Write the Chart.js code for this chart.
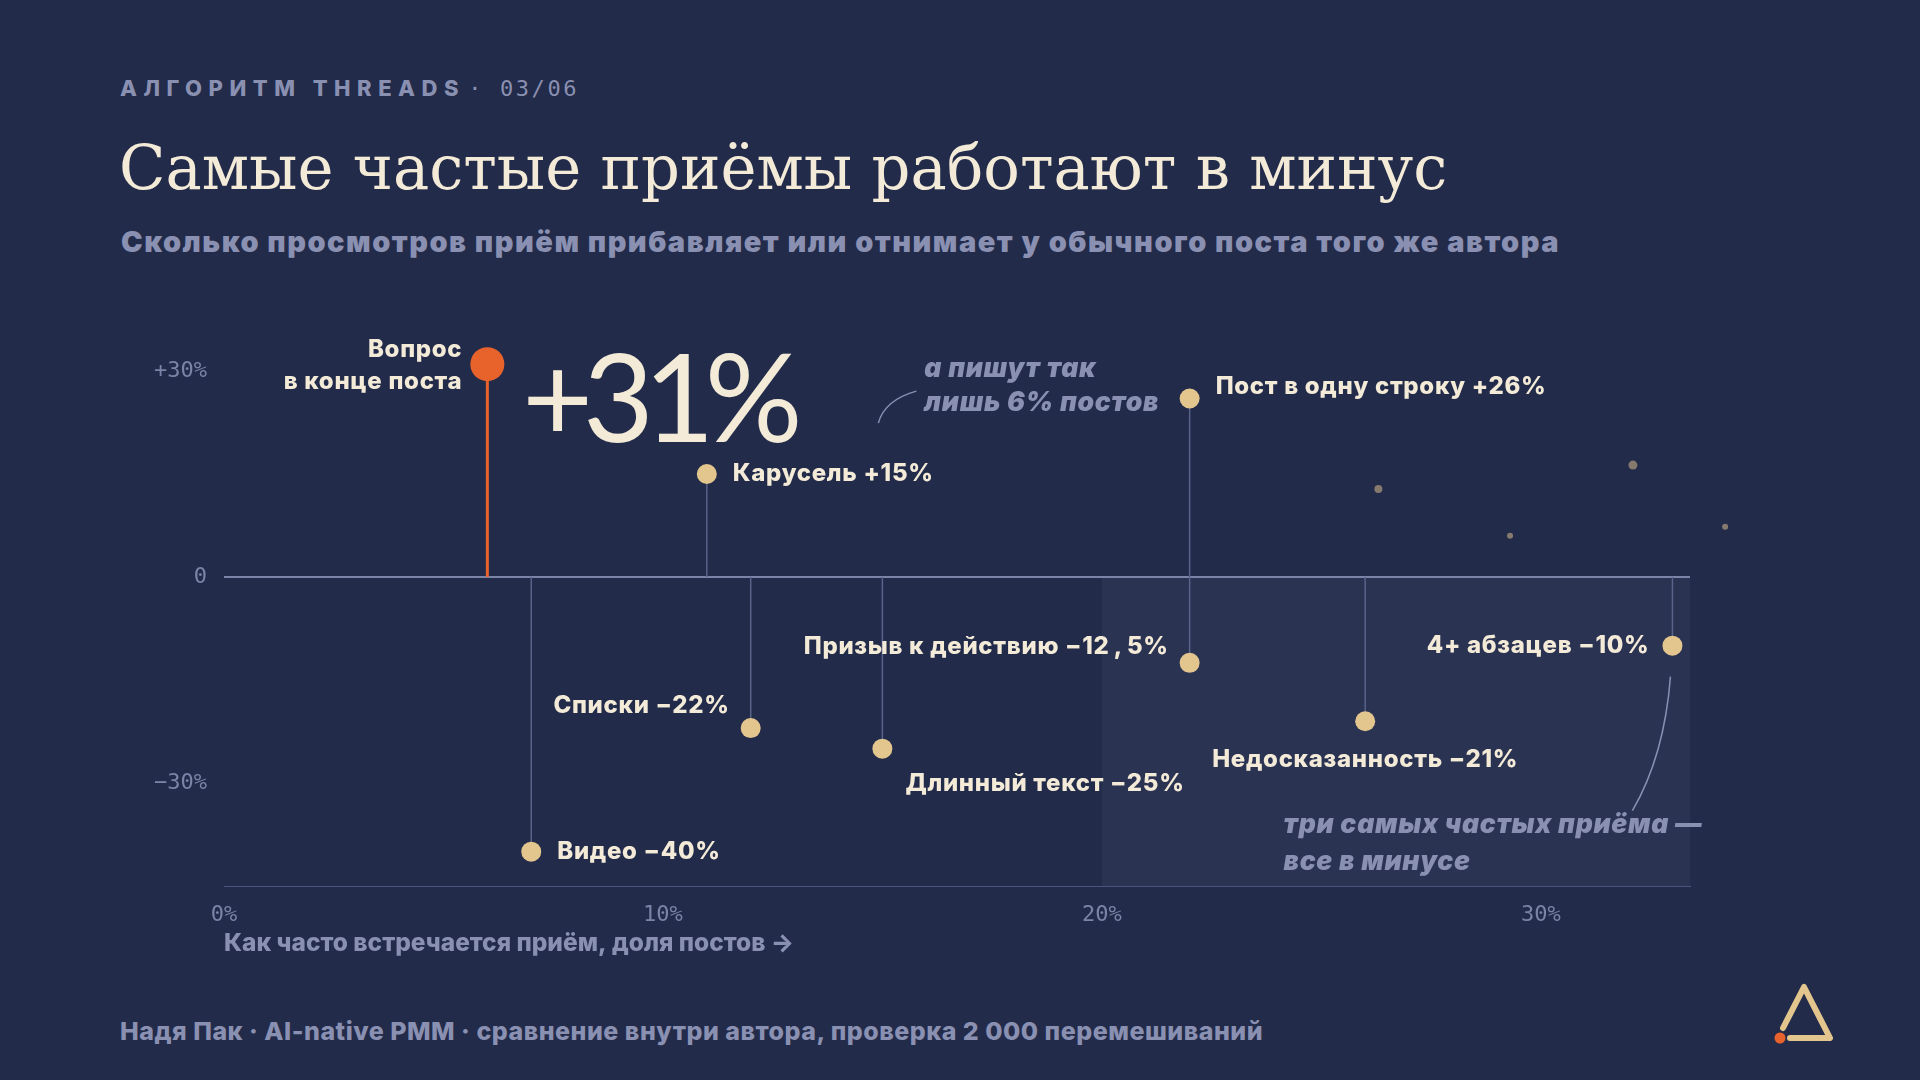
<!DOCTYPE html>
<html lang="ru">
<head>
<meta charset="utf-8">
<title>Алгоритм Threads 03/06</title>
<script src="https://cdn.jsdelivr.net/npm/chart.js@4.4.1/dist/chart.umd.min.js"></script>
<style>
  html, body { margin: 0; padding: 0; }
  body { width: 1920px; height: 1080px; background: #222b4a; position: relative; overflow: hidden; font-family: Inter, sans-serif; }
  #chart { position: absolute; left: 0; top: 0; }
  .kicker { position: absolute; left: 120px; top: 77px; font: 800 22px/1 Inter, sans-serif; color: #8a90b1; letter-spacing: 6.5px; white-space: nowrap; }
  .kicker .num { font: 400 22px/1 "DejaVu Sans Mono", monospace; letter-spacing: 2.6px; margin-left: -8px; }
  .title { position: absolute; left: 119px; top: 138px; font: 400 60.8px/1 "DejaVu Serif", serif; color: #f3ead8; white-space: nowrap; }
  .subtitle { position: absolute; left: 121px; top: 227px; font: 900 29px/1 Inter, sans-serif; color: #8a90b1; letter-spacing: 1.5px; white-space: nowrap; }
  .footer { position: absolute; left: 120px; top: 1019px; font: 800 25px/1 Inter, sans-serif; color: #8a90b1; letter-spacing: 0.5px; white-space: nowrap; }
  .logo { position: absolute; left: 0; top: 0; }
</style>
</head>
<body>
<div class="kicker">АЛГОРИТМ THREADS <span class="num">· 03/06</span></div>
<div class="title">Самые частые приёмы работают в минус</div>
<div class="subtitle">Сколько просмотров приём прибавляет или отнимает у обычного поста того же автора</div>
<div class="footer">Надя Пак · AI-native PMM · сравнение внутри автора, проверка 2 000 перемешиваний</div>
<canvas id="chart" width="1920" height="1080"></canvas>
<svg class="logo" width="1920" height="1080">
  <path d="M1783 1028 L1804 987 L1830 1038 L1790 1038" fill="none" stroke="#e3c58e" stroke-width="6" stroke-linecap="round" stroke-linejoin="round"/>
  <circle cx="1780" cy="1038" r="5.5" fill="#e8622c"/>
</svg>
<script>
// приёмы: доля постов с приёмом (%) и эффект на просмотры (%)
const techniques = ['Вопрос в конце поста', 'Карусель', 'Пост в одну строку', 'Видео', 'Списки',
  'Длинный текст', 'Призыв к действию', 'Недосказанность', '4+ абзацев'];
const shareOfPosts = [6, 11, 22, 7, 12, 15, 22, 26, 33];
const viewsEffect = [31, 15, 26, -40, -22, -25, -12.5, -21, -10];
const effectLabels = ['+31%', '+15%', '+26%', '−40%', '−22%', '−25%', '−12,5%', '−21%', '−10%'];

// прочие приёмы без подписи
const otherShare = [26.3, 32.1, 29.3, 34.2];
const otherEffect = [12.8, 16.3, 6.0, 7.3];

const xTicks = [0, 10, 20, 30];
const yTicks = [-30, 0, 30];

const CREAM = '#f3ead8';
const TAN = '#e3c58e';
const ORANGE = '#e8622c';
const MUTED = '#8a90b1';
const TICK = '#7c83a6';
const LABEL_FONT = '800 24px Inter';

// где ставить подпись относительно точки
const labelPlace = [
  null,
  { align: 'left', dx: 26, dy: 0 },
  { align: 'left', dx: 26, dy: -12 },
  { align: 'left', dx: 26, dy: 0 },
  { align: 'right', dx: -21, dy: -22 },
  { align: 'left', dx: 23, dy: 35 },
  { align: 'right', dx: -21, dy: -16 },
  { align: 'center', dx: 0, dy: 39 },
  { align: 'right', dx: -23, dy: 0 }
];
const otherRadius = [4, 4.5, 3, 3];

// подпись с "табличной" запятой: запятая занимает ширину цифры
function drawLabel(ctx, text, x, y, align) {
  const pieces = text.split(',');
  if (pieces.length === 1) {
    ctx.textAlign = align;
    ctx.fillText(text, x, y);
    return;
  }
  const digitW = ctx.measureText('0').width;
  const widths = pieces.map(p => ctx.measureText(p).width);
  const total = widths.reduce((a, b) => a + b, 0) + digitW * (pieces.length - 1);
  let cx = align === 'right' ? x - total : align === 'center' ? x - total / 2 : x;
  ctx.textAlign = 'left';
  pieces.forEach((p, k) => {
    ctx.fillText(p, cx, y);
    cx += widths[k];
    if (k < pieces.length - 1) {
      ctx.textAlign = 'center';
      ctx.fillText(',', cx + digitW / 2, y);
      ctx.textAlign = 'left';
      cx += digitW;
    }
  });
}

const shadePlugin = {
  id: 'shade',
  beforeDraw(chart) {
    const { ctx, chartArea, scales } = chart;
    const x0 = scales.x.getPixelForValue(20);
    const y0 = scales.y.getPixelForValue(0);
    ctx.save();
    ctx.fillStyle = '#2b3352';
    ctx.fillRect(x0, y0, chartArea.right - x0, chartArea.bottom - y0);
    ctx.restore();
  }
};

const stemPlugin = {
  id: 'stems',
  beforeDatasetsDraw(chart) {
    const { ctx, scales } = chart;
    const y0 = scales.y.getPixelForValue(0);
    ctx.save();
    // прочие приёмы — мелкие точки (одна выходит за край оси)
    ctx.fillStyle = '#857a6d';
    otherShare.forEach((s, i) => {
      ctx.beginPath();
      ctx.arc(scales.x.getPixelForValue(s), scales.y.getPixelForValue(otherEffect[i]), otherRadius[i], 0, Math.PI * 2);
      ctx.fill();
    });
    shareOfPosts.forEach((s, i) => {
      const x = scales.x.getPixelForValue(s);
      const y = scales.y.getPixelForValue(viewsEffect[i]);
      ctx.beginPath();
      ctx.strokeStyle = i === 0 ? ORANGE : '#5a638b';
      ctx.lineWidth = i === 0 ? 3 : 1.5;
      ctx.moveTo(x, y0);
      ctx.lineTo(x, y);
      ctx.stroke();
    });
    ctx.restore();
  }
};

const labelPlugin = {
  id: 'labels',
  afterDatasetsDraw(chart) {
    const { ctx, scales } = chart;
    const px = i => scales.x.getPixelForValue(shareOfPosts[i]);
    const py = i => scales.y.getPixelForValue(viewsEffect[i]);
    ctx.save();
    ctx.textBaseline = 'middle';
    ctx.font = LABEL_FONT;
    ctx.letterSpacing = '0.7px';
    ctx.fillStyle = CREAM;

    // главный приём
    ctx.textAlign = 'right';
    const parts = techniques[0].split(' в ');
    ctx.fillText(parts[0], px(0) - 25, py(0) - 14);
    ctx.fillText('в ' + parts[1], px(0) - 25, py(0) + 18);
    ctx.textAlign = 'left';
    ctx.textBaseline = 'alphabetic';
    ctx.font = '400 122px Lato';
    ctx.letterSpacing = '-10px';
    ctx.fillText(effectLabels[0], px(0) + 35, py(0) + 78);

    ctx.textBaseline = 'middle';
    ctx.font = LABEL_FONT;
    ctx.letterSpacing = '0.7px';
    for (let i = 1; i < techniques.length; i++) {
      const p = labelPlace[i];
      drawLabel(ctx, techniques[i] + ' ' + effectLabels[i], px(i) + p.dx, py(i) + p.dy, p.align);
    }

    // пояснения
    ctx.font = 'italic 900 26.5px Inter';
    ctx.letterSpacing = '0.7px';
    ctx.fillStyle = MUTED;
    ctx.textAlign = 'left';
    ctx.fillText('а пишут так', px(0) + 437, py(0) + 5);
    ctx.fillText('лишь 6% постов', px(0) + 437, py(0) + 39);
    ctx.fillText('три самых частых приёма —', px(8) - 389, py(8) + 179);
    ctx.fillText('все в минусе', px(8) - 389, py(8) + 216);

    ctx.strokeStyle = MUTED;
    ctx.lineWidth = 1.5;
    ctx.beginPath();
    ctx.moveTo(px(0) + 391, py(0) + 59);
    ctx.quadraticCurveTo(px(0) + 397, py(0) + 36, px(0) + 429, py(0) + 27);
    ctx.stroke();
    ctx.beginPath();
    ctx.moveTo(px(8) - 2, py(8) + 31);
    ctx.quadraticCurveTo(px(8) - 8, py(8) + 110, px(8) - 40, py(8) + 165);
    ctx.stroke();
    ctx.restore();
  }
};

const tickFont = { family: 'DejaVu Sans Mono', size: 22 };

new Chart(document.getElementById('chart'), {
  type: 'scatter',
  data: {
    datasets: [
      {
        label: 'приёмы',
        data: shareOfPosts.map((x, i) => ({ x, y: viewsEffect[i] })),
        backgroundColor: shareOfPosts.map((_, i) => i === 0 ? ORANGE : TAN),
        borderWidth: 0,
        pointRadius: shareOfPosts.map((_, i) => i === 0 ? 17 : 10),
        clip: false
      }
    ]
  },
  options: {
    responsive: false,
    animation: false,
    devicePixelRatio: 1,
    layout: { padding: { left: 0, right: 230, top: 268, bottom: 118 } },
    plugins: { legend: { display: false }, tooltip: { enabled: false } },
    scales: {
      x: {
        type: 'linear', min: 0, max: 33.4,
        afterBuildTicks: s => { s.ticks = xTicks.map(v => ({ value: v })); },
        afterFit: s => { s.height = 76; },
        ticks: { color: TICK, font: tickFont, padding: 8, maxRotation: 0, callback: v => v + '%' },
        grid: { display: false },
        border: { display: true, color: '#4b5480', width: 1 },
        title: {
          display: true, text: 'Как часто встречается приём, доля постов →',
          align: 'start', color: MUTED, font: { family: 'Inter', size: 24.5, weight: '800' }, padding: { top: 4 }
        }
      },
      y: {
        type: 'linear', min: -45, max: 45,
        afterBuildTicks: s => { s.ticks = yTicks.map(v => ({ value: v })); },
        afterFit: s => { s.width = 224; },
        ticks: {
          color: TICK, font: tickFont, padding: 17,
          callback: v => v > 0 ? '+' + v + '%' : v < 0 ? '−' + Math.abs(v) + '%' : '0'
        },
        grid: {
          drawTicks: false,
          color: c => c.tick && c.tick.value === 0 ? '#7c84a8' : 'transparent',
          lineWidth: c => c.tick && c.tick.value === 0 ? 2 : 0
        },
        border: { display: false }
      }
    }
  },
  plugins: [shadePlugin, stemPlugin, labelPlugin]
});
</script>
</body>
</html>
